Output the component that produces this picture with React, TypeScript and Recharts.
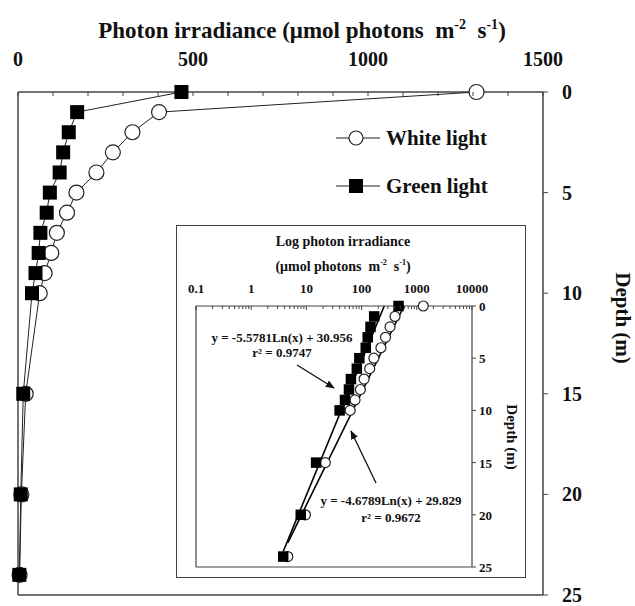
import React from "react";
import { ScatterChart, Scatter, XAxis, YAxis, ReferenceLine, Legend } from "recharts";

// sampling depths (m)
const depths = [0, 1, 2, 3, 4, 5, 6, 7, 8, 9, 10, 15, 20, 24];
// photon irradiance (µmol photons m-2 s-1) at each depth
const whiteLight = [1310, 403, 327, 271, 224, 167, 140, 111, 95, 76, 62, 22, 9.6, 4.6];
const greenLight = [467, 169, 145, 129, 119, 91, 82, 64, 59, 50, 40, 15, 7.9, 3.8];

const irrTicks = [0, 100, 200, 300, 400, 500, 600, 700, 800, 900, 1000, 1100, 1200, 1300, 1400, 1500];
const irrLabels = [0, 500, 1000, 1500];
const depthTicks = [0, 5, 10, 15, 20, 25];
const logDecades = [0.1, 1, 10, 100, 1000];
const logTicks = [...logDecades.flatMap((d) => [1, 2, 3, 4, 5, 6, 7, 8, 9].map((k) => d * k)), 10000];

// log fits: depth = slope * ln(x) + intercept
const greenFit = [-5.5781, 30.956];
const whiteFit = [-4.6789, 29.829];

const FONT = "'Liberation Serif', 'Times New Roman', serif";
const AXIS = "#444";
const LINE = "#222";

const whiteRows = depths.map((d, i) => ({ irr: whiteLight[i], depth: d }));
const greenRows = depths.map((d, i) => ({ irr: greenLight[i], depth: d }));

// trend segment from the lowest reading up to the surface (depth 0)
const fitSegment = (fit: number[], values: number[]) => {
  const xmin = Math.min(...values);
  return [
    { x: xmin, y: fit[0] * Math.log(xmin) + fit[1] },
    { x: Math.exp(-fit[1] / fit[0]), y: 0 },
  ];
};

const circle = (r: number) => (p: any) =>
  <circle cx={p.cx} cy={p.cy} r={r} fill="#fff" stroke={LINE} strokeWidth={1.2} />;
const square = (s: number) => (p: any) =>
  <rect x={p.cx - s / 2} y={p.cy - s / 2} width={s} height={s} fill="#000" />;

const TopTick = (props: any) => {
  const { x, y, payload } = props;
  return (
    <g>
      <line x1={x} y1={y} x2={x} y2={y + 4} stroke={AXIS} />
      {irrLabels.includes(payload.value) && (
        <text x={x} y={y - 26} textAnchor="middle" fontFamily={FONT} fontWeight="bold" fontSize={20} fill="#111">
          {payload.value}
        </text>
      )}
    </g>
  );
};

const RightTick = (size: number, len: number, gap: number, dy: number) => (props: any) => {
  const { x, y, payload } = props;
  return (
    <g>
      <line x1={x} y1={y} x2={x + len} y2={y} stroke={AXIS} />
      <text x={x + gap} y={y + dy} textAnchor="start" fontFamily={FONT} fontWeight="bold" fontSize={size} fill="#111">
        {payload.value}
      </text>
    </g>
  );
};

const LogTick = (props: any) => {
  const { x, y, payload } = props;
  const v = payload.value;
  const lg = Math.log10(v);
  const major = Math.abs(lg - Math.round(lg)) < 1e-6;
  return (
    <g>
      <line x1={x} y1={y} x2={x} y2={y + (major ? 4 : 3)} stroke={AXIS} />
      {major && (
        <text x={x} y={y - 13} textAnchor="middle" fontFamily={FONT} fontWeight="bold" fontSize={13} fill="#111">
          {v < 1 ? "0.1" : String(Math.round(v))}
        </text>
      )}
    </g>
  );
};

const legendItems = [
  { name: "White light", marker: "circle" },
  { name: "Green light", marker: "square" },
];

const LegendBox = () => (
  <div style={{ fontFamily: FONT, fontWeight: "bold", fontSize: 21, color: "#111" }}>
    {legendItems.map((it) => (
      <div key={it.name} style={{ display: "flex", alignItems: "center", height: 48 }}>
        <svg width={46} height={20}>
          <line x1={0} y1={10} x2={44} y2={10} stroke={LINE} strokeWidth={1.2} />
          {it.marker === "circle" ? (
            <circle cx={20} cy={10} r={7} fill="#fff" stroke={LINE} strokeWidth={1.2} />
          ) : (
            <rect x={13} y={3} width={14} height={14} fill="#000" />
          )}
        </svg>
        <span style={{ marginLeft: 4 }}>{it.name}</span>
      </div>
    ))}
  </div>
);

// "(µmol photons  m-2  s-1)" with raised exponents
const unitsText = (size: number) => {
  const up = Math.round(size * 0.4);
  const small = Math.round(size * 0.6);
  return [
    <tspan key="a">{"(μmol photons  m"}</tspan>,
    <tspan key="b" dy={-up} fontSize={small}>-2</tspan>,
    <tspan key="c" dy={up}>{"  s"}</tspan>,
    <tspan key="d" dy={-up} fontSize={small}>-1</tspan>,
    <tspan key="e" dy={up}>)</tspan>,
  ];
};

function MainChart() {
  return (
    <ScatterChart width={635} height={606} margin={{ top: 62, right: 42, bottom: 11, left: 18 }}>
      <XAxis
        type="number"
        dataKey="irr"
        orientation="top"
        domain={[0, 1500]}
        ticks={irrTicks}
        interval={0}
        height={30}
        tickSize={0}
        tickMargin={0}
        tickLine={false}
        axisLine={{ stroke: AXIS, strokeWidth: 1.5 }}
        tick={<TopTick />}
      />
      <YAxis
        type="number"
        dataKey="depth"
        orientation="right"
        domain={[0, 25]}
        reversed
        ticks={depthTicks}
        interval={0}
        width={50}
        tickSize={0}
        tickMargin={0}
        tickLine={false}
        axisLine={{ stroke: AXIS, strokeWidth: 1.5 }}
        tick={RightTick(20, 5, 19, 7)}
      />
      <ReferenceLine x={0} stroke={AXIS} strokeWidth={1.5} />
      <ReferenceLine y={25} stroke={AXIS} strokeWidth={1.5} />
      {/* middle/center keeps the legend out of the plot offset */}
      <Legend
        layout="horizontal"
        verticalAlign="middle"
        align="center"
        content={<LegendBox />}
        wrapperStyle={{ left: 336, top: 114, width: 200 }}
      />
      <Scatter name="White light" data={whiteRows} line={{ stroke: LINE, strokeWidth: 1 }} shape={circle(7.5)} isAnimationActive={false} />
      <Scatter name="Green light" data={greenRows} line={{ stroke: LINE, strokeWidth: 1 }} shape={square(14)} isAnimationActive={false} />
    </ScatterChart>
  );
}

function InsetChart() {
  return (
    <ScatterChart width={350} height={353} margin={{ top: 61, right: 14, bottom: 11, left: 20 }}>
      <XAxis
        type="number"
        dataKey="irr"
        orientation="top"
        scale="log"
        domain={[0.1, 10000]}
        ticks={logTicks}
        interval={0}
        height={20}
        tickSize={0}
        tickMargin={0}
        tickLine={false}
        axisLine={{ stroke: AXIS, strokeWidth: 1.2 }}
        tick={<LogTick />}
        allowDataOverflow
      />
      <YAxis
        type="number"
        dataKey="depth"
        orientation="right"
        domain={[0, 25]}
        reversed
        ticks={depthTicks}
        interval={0}
        width={40}
        tickSize={0}
        tickMargin={0}
        tickLine={false}
        axisLine={{ stroke: AXIS, strokeWidth: 1.2 }}
        tick={RightTick(13, 4, 7, 5)}
      />
      <ReferenceLine x={0.1} stroke={AXIS} strokeWidth={1.2} />
      <ReferenceLine y={25} stroke={AXIS} strokeWidth={1.2} />
      <Scatter data={whiteRows} shape={circle(5)} isAnimationActive={false} />
      <Scatter data={greenRows} shape={square(10.5)} isAnimationActive={false} />
      <ReferenceLine segment={fitSegment(greenFit, greenLight)} stroke="#000" strokeWidth={1.6} ifOverflow="visible" />
      <ReferenceLine segment={fitSegment(whiteFit, whiteLight)} stroke="#000" strokeWidth={1.6} ifOverflow="visible" />
    </ScatterChart>
  );
}

export default function App() {
  const txt = { fontFamily: FONT, fontWeight: "bold" as const, fill: "#111", style: { whiteSpace: "pre" as const } };
  return (
    <div style={{ position: "absolute", left: 0, top: 0, width: 635, height: 606, background: "#fff" }}>
      <MainChart />
      <div
        style={{
          position: "absolute",
          left: 176,
          top: 225,
          width: 350,
          height: 353,
          boxSizing: "border-box",
          border: `1.5px solid ${AXIS}`,
          background: "#fff",
        }}
      >
        <div style={{ position: "absolute", left: -1.5, top: -1.5 }}>
          <InsetChart />
        </div>
      </div>
      <svg width={635} height={606} style={{ position: "absolute", left: 0, top: 0, pointerEvents: "none" }}>
        <defs>
          <marker id="arrowHead" viewBox="0 0 10 10" refX={9} refY={5} markerWidth={7} markerHeight={7} orient="auto">
            <path d="M0,1 L10,5 L0,9 z" fill="#111" />
          </marker>
        </defs>
        <text x={302} y={38} textAnchor="middle" fontSize={23} {...txt}>
          <tspan>{"Photon irradiance "}</tspan>
          {unitsText(23)}
        </text>
        <text transform="translate(616 318) rotate(90)" textAnchor="middle" fontSize={21} {...txt}>
          Depth (m)
        </text>
        <text x={343} y={246} textAnchor="middle" fontSize={14} {...txt}>
          Log photon irradiance
        </text>
        <text x={343} y={271} textAnchor="middle" fontSize={14} {...txt}>
          {unitsText(14)}
        </text>
        <text transform="translate(507 437) rotate(90)" textAnchor="middle" fontSize={15} {...txt}>
          Depth (m)
        </text>
        <text x={282} y={342} textAnchor="middle" fontSize={13} {...txt}>
          y = -5.5781Ln(x) + 30.956
        </text>
        <text x={282} y={357} textAnchor="middle" fontSize={13} {...txt}>
          r² = 0.9747
        </text>
        <text x={391} y={505} textAnchor="middle" fontSize={13} {...txt}>
          y = -4.6789Ln(x) + 29.829
        </text>
        <text x={391} y={522} textAnchor="middle" fontSize={13} {...txt}>
          r² = 0.9672
        </text>
        <line x1={297} y1={365} x2={334} y2={388} stroke="#111" strokeWidth={1.3} markerEnd="url(#arrowHead)" />
        <line x1={376} y1={483} x2={351} y2={431} stroke="#111" strokeWidth={1.3} markerEnd="url(#arrowHead)" />
      </svg>
    </div>
  );
}
